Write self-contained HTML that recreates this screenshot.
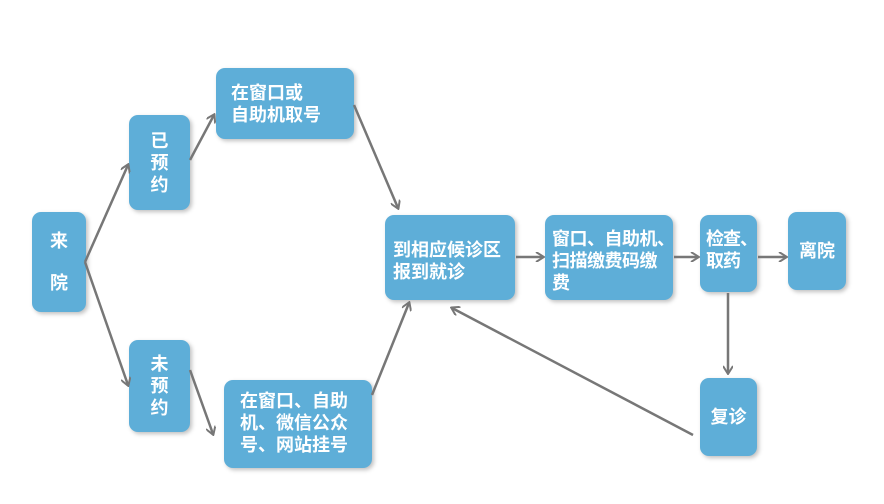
<!DOCTYPE html>
<html><head><meta charset="utf-8"><style>
body{margin:0;width:884px;height:504px;background:#fff;position:relative;overflow:hidden;font-family:"Liberation Sans","Noto Sans CJK SC",sans-serif;}
.b{position:absolute;background:#5eaed8;border-radius:9px;color:#fff;font-weight:bold;font-size:18px;line-height:22px;box-shadow:2px 2px 4px rgba(0,0,0,.25);box-sizing:border-box;white-space:nowrap;}
.c{display:flex;align-items:center;justify-content:center;text-align:center;}
svg{position:absolute;left:0;top:0;}
</style></head><body>
<div class="b c" style="left:32px;top:212px;width:54px;height:100px;line-height:42px;">来<br>院</div>
<div class="b c" style="left:129px;top:115px;width:61px;height:95px;">已<br>预<br>约</div>
<div class="b c" style="left:129px;top:340px;width:61px;height:92px;">未<br>预<br>约</div>
<div class="b" style="left:216px;top:68px;width:138px;height:71px;padding:14px 0 0 15px;">在窗口或<br>自助机取号</div>
<div class="b" style="left:224px;top:380px;width:148px;height:88px;padding:10px 0 0 16px;">在窗口、自助<br>机、微信公众<br>号、网站挂号</div>
<div class="b" style="left:385px;top:215px;width:130px;height:85px;padding:24px 0 0 8px;">到相应候诊区<br>报到就诊</div>
<div class="b" style="left:545px;top:215px;width:128px;height:85px;padding:13px 0 0 7px;letter-spacing:-0.5px;">窗口、自助机、<br>扫描缴费码缴<br>费</div>
<div class="b" style="left:700px;top:215px;width:57px;height:77px;padding:13px 0 0 6px;letter-spacing:-1px;">检查、<br>取药</div>
<div class="b c" style="left:788px;top:212px;width:58px;height:78px;">离院</div>
<div class="b c" style="left:700px;top:378px;width:57px;height:78px;">复诊</div>
<svg width="884" height="504"><defs><marker id="a" markerWidth="10" markerHeight="10" refX="8" refY="5" orient="auto" markerUnits="userSpaceOnUse"><path d="M1,0 L9,5 L1,10" fill="none" stroke="#777" stroke-width="2"/></marker></defs>
<g stroke="#777" stroke-width="2.5" fill="none" marker-end="url(#a)">
<line x1="85" y1="262" x2="128" y2="165"/>
<line x1="85" y1="262" x2="128" y2="385"/>
<line x1="190" y1="160" x2="214" y2="115"/>
<line x1="190" y1="370" x2="213" y2="434"/>
<line x1="354" y1="105" x2="398" y2="208"/>
<line x1="372" y1="395" x2="409" y2="303"/>
<line x1="516" y1="257" x2="543" y2="257"/>
<line x1="674" y1="257" x2="698" y2="257"/>
<line x1="758" y1="257" x2="786" y2="257"/>
<line x1="728" y1="293" x2="728" y2="373"/>
<line x1="693" y1="435" x2="452" y2="308"/>
</g></svg>
</body></html>
